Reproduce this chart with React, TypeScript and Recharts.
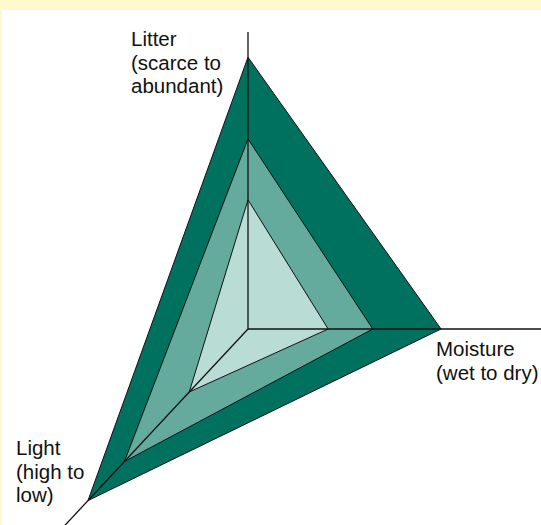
import { PolarAngleAxis, PolarRadiusAxis, Radar, RadarChart } from "recharts";

// the three gradients (0-100 along each axis)
const axes = ["Litter", "Moisture", "Light"];
const axisTitles = [
  ["Litter", "(scarce to", "abundant)"],
  ["Moisture", "(wet to dry)"],
  ["Light", "(high to", "low)"],
];
const outerNiche = [91.5, 65, 79];
const middleNiche = [64, 42, 61];
const innerNiche = [43.5, 27, 29];

// direction of each axis in degrees (counter-clockwise from east)
const AXIS_ANGLE = [90, 0, 227];
// where each title block sits relative to its tick point
const TITLE_OFFSET = [
  { dx: -117, dy: 22 },
  { dx: -117, dy: 27 },
  { dx: -24, dy: -97 },
];

const data = axes.map((a, i) => ({
  axis: a,
  angle: AXIS_ANGLE[i],
  outer: outerNiche[i],
  middle: middleNiche[i],
  inner: innerNiche[i],
}));

function AxisTitle(props: any) {
  const { x, y, payload } = props;
  const i = AXIS_ANGLE.indexOf(Number(payload?.value));
  if (i < 0) return null;
  const off = TITLE_OFFSET[i];
  return (
    <text
      x={x + off.dx}
      y={y + off.dy}
      fill="#111"
      fontSize={20.5}
      fontFamily="'Liberation Sans', Arial, sans-serif"
      textAnchor="start"
    >
      {axisTitles[i].map((line, k) => (
        <tspan key={k} x={x + off.dx} dy={k === 0 ? 0 : 23.5}>
          {line}
        </tspan>
      ))}
    </text>
  );
}

const spoke = { stroke: "#111", strokeWidth: 1.3 };

export default function App() {
  return (
    <div
      style={{
        position: "absolute",
        left: 0,
        top: 0,
        width: 541,
        height: 525,
        background: "#fffacd",
        overflow: "hidden",
      }}
    >
      <div style={{ position: "absolute", left: 2, top: 10, right: 0, bottom: 0, background: "#fff" }} />
      <div style={{ position: "absolute", left: 0, top: 0 }}>
        <RadarChart
          width={541}
          height={525}
          data={data}
          cx={248}
          cy={329}
          outerRadius={297}
          startAngle={0}
          endAngle={360}
          margin={{ top: 0, right: 0, bottom: 0, left: 0 }}
        >
          <PolarAngleAxis
            dataKey="angle"
            type="number"
            domain={[0, 360]}
            ticks={AXIS_ANGLE}
            axisLine={false}
            tickLine={false}
            tick={<AxisTitle />}
          />
          <Radar dataKey="outer" fill="#00715f" fillOpacity={1} stroke="#111" strokeWidth={1} isAnimationActive={false} />
          <Radar dataKey="middle" fill="#64ab9e" fillOpacity={1} stroke="#111" strokeWidth={1} isAnimationActive={false} />
          <Radar dataKey="inner" fill="#b9ddd5" fillOpacity={1} stroke="#111" strokeWidth={1} isAnimationActive={false} />
          {/* the other two spokes need a series on their axis to be drawn; these stay invisible */}
          <Radar radiusAxisId="spoke1" dataKey="inner" fill="none" stroke="none" isAnimationActive={false} />
          <Radar radiusAxisId="spoke2" dataKey="inner" fill="none" stroke="none" isAnimationActive={false} />
          {/* one radius axis per gradient, used only as the spoke line */}
          {AXIS_ANGLE.map((ang, i) => (
            <PolarRadiusAxis
              key={i}
              radiusAxisId={i === 0 ? 0 : `spoke${i}`}
              angle={ang}
              domain={[0, 100]}
              allowDataOverflow
              tick={false}
              tickLine={false}
              axisLine={spoke}
            />
          ))}
        </RadarChart>
      </div>
    </div>
  );
}
